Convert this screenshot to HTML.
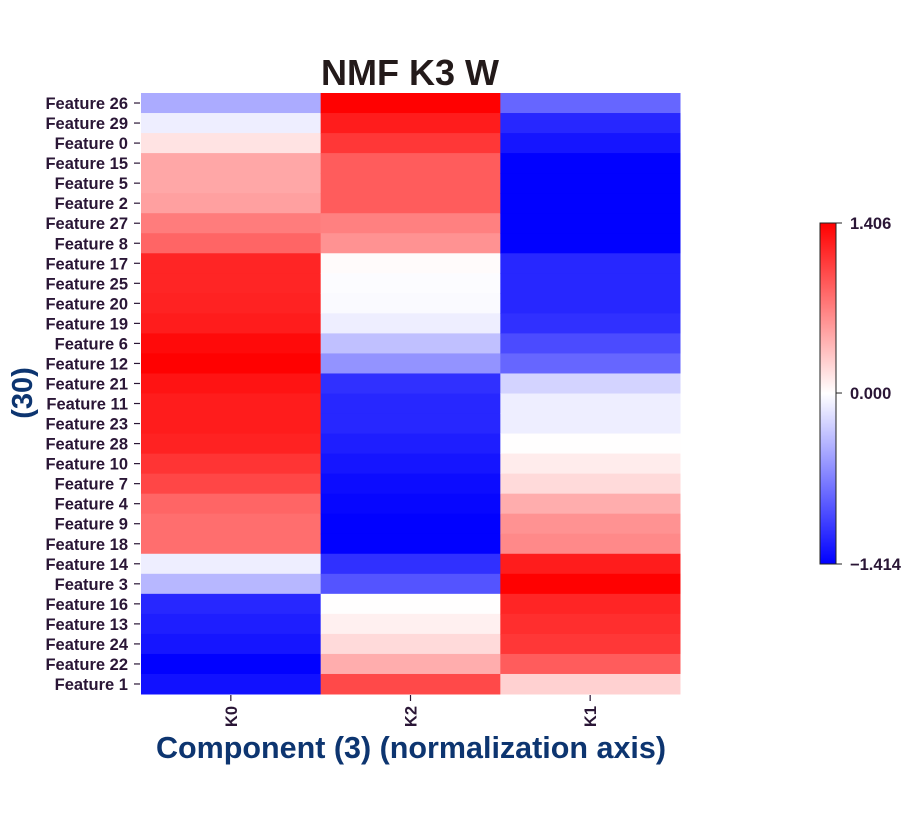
<!DOCTYPE html>
<html><head><meta charset="utf-8"><style>
body{margin:0;background:#fff;}
text{font-family:"Liberation Sans",sans-serif;font-weight:bold;}
</style></head><body>
<svg id="chart" width="911" height="808" xmlns="http://www.w3.org/2000/svg">
<defs><linearGradient id="cb" x1="0" y1="1" x2="0" y2="0">
<stop offset="0" stop-color="#0000ff"/><stop offset="0.5" stop-color="#ffffff"/><stop offset="1" stop-color="#ff0000"/></linearGradient></defs>
<text x="410" y="85" text-anchor="middle" font-size="36" fill="#231a1a">NMF K3 W</text>
<text transform="translate(32,393) rotate(-90)" text-anchor="middle" font-size="29" fill="#0d3570">(30)</text>
<text x="411" y="758" text-anchor="middle" font-size="30.5" fill="#0d3570">Component (3) (normalization axis)</text>
<g id="cells"></g><g id="ylabels"></g><g id="xlabels"></g>
<rect x="820" y="223" width="16" height="341" fill="url(#cb)" stroke="#222" stroke-width="1"/>
<g id="cbticks"></g>
</svg>
<script>
const rows=["Feature 26","Feature 29","Feature 0","Feature 15","Feature 5","Feature 2","Feature 27","Feature 8","Feature 17","Feature 25","Feature 20","Feature 19","Feature 6","Feature 12","Feature 21","Feature 11","Feature 23","Feature 28","Feature 10","Feature 7","Feature 4","Feature 9","Feature 18","Feature 14","Feature 3","Feature 16","Feature 13","Feature 24","Feature 22","Feature 1"];
const cols=["K0","K2","K1"];
const k0=[-0.47,-0.1,0.15,0.48,0.48,0.52,0.72,0.85,1.2,1.2,1.22,1.25,1.35,1.4,1.3,1.25,1.25,1.22,1.12,1.02,0.85,0.8,0.8,-0.1,-0.4,-1.2,-1.25,-1.3,-1.41,-1.32];
const k2=[1.4,1.25,1.1,0.9,0.9,0.9,0.7,0.6,0.02,-0.02,-0.03,-0.1,-0.35,-0.6,-1.15,-1.2,-1.2,-1.25,-1.3,-1.35,-1.38,-1.41,-1.41,-1.15,-0.95,0.0,0.08,0.2,0.45,1.0];
const k1=[-0.85,-1.2,-1.3,-1.41,-1.41,-1.41,-1.41,-1.41,-1.2,-1.2,-1.2,-1.15,-1.0,-0.85,-0.25,-0.1,-0.1,0.0,0.1,0.2,0.45,0.6,0.65,1.25,1.4,1.2,1.15,1.1,0.9,0.25];
const vmin=-1.414,vmax=1.406;
const cbTicks=[1.406,0.0,-1.414];
const cbLabels=["1.406","0.000","\u22121.414"];
const NS="http://www.w3.org/2000/svg";
const x0=141,x1=680,y0=93,y1=694;
const cw=(x1-x0)/cols.length,rh=(y1-y0)/rows.length;
function color(v){let t=(v-vmin)/(vmax-vmin);t=Math.max(0,Math.min(1,t));let r,g,b;
if(t<0.5){const s=t/0.5;r=Math.round(255*s);g=r;b=255;}else{const s=(t-0.5)/0.5;r=255;g=Math.round(255*(1-s));b=g;}return `rgb(${r},${g},${b})`;}
function mk(tag,a,p){const e=document.createElementNS(NS,tag);for(const k in a)e.setAttribute(k,a[k]);p.appendChild(e);return e;}
const series=[k0,k2,k1];
const cells=document.getElementById('cells');
series.forEach((s,c)=>s.forEach((v,r)=>{const e=mk('rect',{x:x0+c*cw,y:y0+r*rh,width:cw+0.5,height:rh+0.5,fill:color(v)},cells);

}));
const yl=document.getElementById('ylabels');
rows.forEach((n,r)=>{const y=y0+(r+0.5)*rh;mk('line',{x1:134,x2:140,y1:y,y2:y,stroke:'#2a1636','stroke-width':1.2},yl);
const t=mk('text',{x:128,y:y+6,'text-anchor':'end','font-size':16.5,fill:'#2a1636'},yl);t.textContent=n;

});
const xl=document.getElementById('xlabels');
cols.forEach((n,c)=>{const x=x0+(c+0.5)*cw;mk('line',{x1:x,x2:x,y1:695,y2:701,stroke:'#2a1636','stroke-width':1.2},xl);
const t=mk('text',{transform:`translate(${x+6},706) rotate(-90)`,'text-anchor':'end','font-size':16.5,fill:'#2a1636'},xl);t.textContent=n;

});
const cb=document.getElementById('cbticks');
cbTicks.forEach((v,i)=>{const y=564-(v-vmin)/(vmax-vmin)*341;mk('line',{x1:836,x2:842,y1:y,y2:y,stroke:'#222'},cb);
const t=mk('text',{x:850,y:y+6,'font-size':16.5,fill:'#2a1636'},cb);t.textContent=cbLabels[i];

});
</script>
</body></html>
